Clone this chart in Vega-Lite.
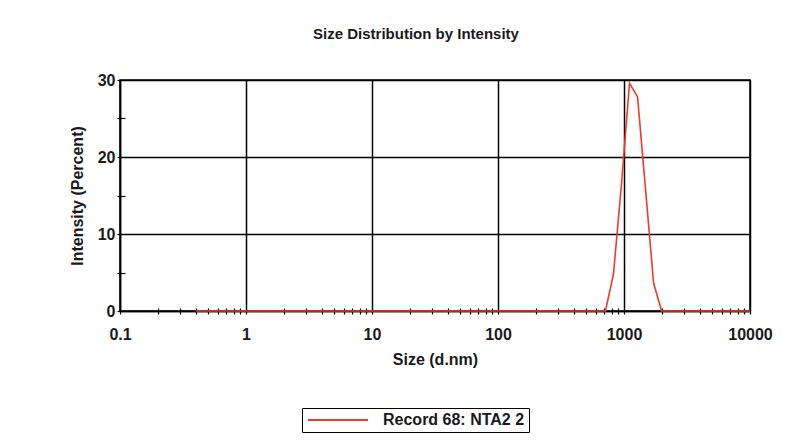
{
  "$schema": "https://vega.github.io/schema/vega-lite/v6.json",
  "width": 630,
  "height": 231,
  "autosize": {"type": "none"},
  "padding": {"left": 120, "top": 80, "right": 61, "bottom": 132},
  "background": "white",
  "title": {
    "text": "Size Distribution by Intensity",
    "font": "Liberation Sans",
    "fontSize": 15,
    "fontWeight": "bold",
    "color": "#1a1a1a",
    "anchor": "middle",
    "dx": -19,
    "offset": 30
  },
  "config": {
    "view": {"stroke": "black", "strokeWidth": 1.5},
    "axis": {
      "labelFont": "Liberation Sans",
      "labelFontWeight": "bold",
      "labelFontSize": 16,
      "labelColor": "#1a1a1a",
      "titleFont": "Liberation Sans",
      "titleFontWeight": "bold",
      "titleFontSize": 16,
      "titleColor": "#1a1a1a",
      "domainColor": "black",
      "domainWidth": 1.5,
      "tickColor": "black",
      "tickWidth": 1.2,
      "gridColor": "black",
      "gridWidth": 1.5,
      "gridOpacity": 1
    }
  },
  "data": {
    "values": [
      {"size": 0.4, "intensity": 0, "series": "Record 68: NTA2 2"},
      {"size": 0.4632, "intensity": 0, "series": "Record 68: NTA2 2"},
      {"size": 0.5365, "intensity": 0, "series": "Record 68: NTA2 2"},
      {"size": 0.6213, "intensity": 0, "series": "Record 68: NTA2 2"},
      {"size": 0.7195, "intensity": 0, "series": "Record 68: NTA2 2"},
      {"size": 0.8332, "intensity": 0, "series": "Record 68: NTA2 2"},
      {"size": 0.9649, "intensity": 0, "series": "Record 68: NTA2 2"},
      {"size": 1.117, "intensity": 0, "series": "Record 68: NTA2 2"},
      {"size": 1.294, "intensity": 0, "series": "Record 68: NTA2 2"},
      {"size": 1.499, "intensity": 0, "series": "Record 68: NTA2 2"},
      {"size": 1.736, "intensity": 0, "series": "Record 68: NTA2 2"},
      {"size": 2.01, "intensity": 0, "series": "Record 68: NTA2 2"},
      {"size": 2.328, "intensity": 0, "series": "Record 68: NTA2 2"},
      {"size": 2.696, "intensity": 0, "series": "Record 68: NTA2 2"},
      {"size": 3.122, "intensity": 0, "series": "Record 68: NTA2 2"},
      {"size": 3.615, "intensity": 0, "series": "Record 68: NTA2 2"},
      {"size": 4.187, "intensity": 0, "series": "Record 68: NTA2 2"},
      {"size": 4.849, "intensity": 0, "series": "Record 68: NTA2 2"},
      {"size": 5.615, "intensity": 0, "series": "Record 68: NTA2 2"},
      {"size": 6.503, "intensity": 0, "series": "Record 68: NTA2 2"},
      {"size": 7.531, "intensity": 0, "series": "Record 68: NTA2 2"},
      {"size": 8.721, "intensity": 0, "series": "Record 68: NTA2 2"},
      {"size": 10.1, "intensity": 0, "series": "Record 68: NTA2 2"},
      {"size": 11.7, "intensity": 0, "series": "Record 68: NTA2 2"},
      {"size": 13.54, "intensity": 0, "series": "Record 68: NTA2 2"},
      {"size": 15.69, "intensity": 0, "series": "Record 68: NTA2 2"},
      {"size": 18.17, "intensity": 0, "series": "Record 68: NTA2 2"},
      {"size": 21.04, "intensity": 0, "series": "Record 68: NTA2 2"},
      {"size": 24.36, "intensity": 0, "series": "Record 68: NTA2 2"},
      {"size": 28.21, "intensity": 0, "series": "Record 68: NTA2 2"},
      {"size": 32.67, "intensity": 0, "series": "Record 68: NTA2 2"},
      {"size": 37.84, "intensity": 0, "series": "Record 68: NTA2 2"},
      {"size": 43.82, "intensity": 0, "series": "Record 68: NTA2 2"},
      {"size": 50.75, "intensity": 0, "series": "Record 68: NTA2 2"},
      {"size": 58.77, "intensity": 0, "series": "Record 68: NTA2 2"},
      {"size": 68.06, "intensity": 0, "series": "Record 68: NTA2 2"},
      {"size": 78.82, "intensity": 0, "series": "Record 68: NTA2 2"},
      {"size": 91.28, "intensity": 0, "series": "Record 68: NTA2 2"},
      {"size": 105.7, "intensity": 0, "series": "Record 68: NTA2 2"},
      {"size": 122.4, "intensity": 0, "series": "Record 68: NTA2 2"},
      {"size": 141.8, "intensity": 0, "series": "Record 68: NTA2 2"},
      {"size": 164.2, "intensity": 0, "series": "Record 68: NTA2 2"},
      {"size": 190.1, "intensity": 0, "series": "Record 68: NTA2 2"},
      {"size": 220.2, "intensity": 0, "series": "Record 68: NTA2 2"},
      {"size": 255.0, "intensity": 0, "series": "Record 68: NTA2 2"},
      {"size": 295.3, "intensity": 0, "series": "Record 68: NTA2 2"},
      {"size": 342.0, "intensity": 0, "series": "Record 68: NTA2 2"},
      {"size": 396.1, "intensity": 0, "series": "Record 68: NTA2 2"},
      {"size": 458.7, "intensity": 0, "series": "Record 68: NTA2 2"},
      {"size": 531.2, "intensity": 0, "series": "Record 68: NTA2 2"},
      {"size": 615.1, "intensity": 0, "series": "Record 68: NTA2 2"},
      {"size": 712.4, "intensity": 0, "series": "Record 68: NTA2 2"},
      {"size": 825.0, "intensity": 4.8, "series": "Record 68: NTA2 2"},
      {"size": 955.4, "intensity": 16.5, "series": "Record 68: NTA2 2"},
      {"size": 1106, "intensity": 29.6, "series": "Record 68: NTA2 2"},
      {"size": 1281, "intensity": 27.8, "series": "Record 68: NTA2 2"},
      {"size": 1484, "intensity": 15.7, "series": "Record 68: NTA2 2"},
      {"size": 1718, "intensity": 3.6, "series": "Record 68: NTA2 2"},
      {"size": 1990, "intensity": 0, "series": "Record 68: NTA2 2"},
      {"size": 2305, "intensity": 0, "series": "Record 68: NTA2 2"},
      {"size": 2669, "intensity": 0, "series": "Record 68: NTA2 2"},
      {"size": 3091, "intensity": 0, "series": "Record 68: NTA2 2"},
      {"size": 3580, "intensity": 0, "series": "Record 68: NTA2 2"},
      {"size": 4145, "intensity": 0, "series": "Record 68: NTA2 2"},
      {"size": 4801, "intensity": 0, "series": "Record 68: NTA2 2"},
      {"size": 5560, "intensity": 0, "series": "Record 68: NTA2 2"},
      {"size": 6439, "intensity": 0, "series": "Record 68: NTA2 2"},
      {"size": 7456, "intensity": 0, "series": "Record 68: NTA2 2"},
      {"size": 8635, "intensity": 0, "series": "Record 68: NTA2 2"},
      {"size": 10000, "intensity": 0, "series": "Record 68: NTA2 2"}
    ]
  },
  "layer": [
    {
      "mark": {"type": "line", "strokeWidth": 1.6, "clip": false},
      "encoding": {
        "x": {
          "field": "size",
          "type": "quantitative",
          "scale": {"type": "log", "domain": [0.1, 10000], "nice": false},
          "axis": {
            "orient": "bottom",
            "values": [0.1, 1, 10, 100, 1000, 10000],
            "format": "~g",
            "grid": true,
            "tickSize": 3,
            "labelPadding": 12,
            "labelFlush": false,
            "labelOverlap": false,
            "title": "Size (d.nm)",
            "titlePadding": 9
          }
        },
        "y": {
          "field": "intensity",
          "type": "quantitative",
          "scale": {"domain": [0, 30], "nice": false},
          "axis": {
            "orient": "left",
            "values": [0, 10, 20, 30],
            "grid": true,
            "tickSize": 3,
            "labelPadding": 2,
            "title": "Intensity (Percent)",
            "titlePadding": 12
          }
        },
        "color": {
          "field": "series",
          "type": "nominal",
          "scale": {"range": ["#f03a2a"]},
          "legend": {
            "orient": "none",
            "legendX": 182,
            "legendY": 328,
            "title": null,
            "symbolType": "M-1,0H9",
            "symbolSize": 144,
            "symbolStrokeWidth": 2,
            "labelFont": "Liberation Sans",
            "labelFontWeight": "bold",
            "labelFontSize": 16,
            "labelColor": "#1a1a1a",
            "labelOffset": 61,
            "labelLimit": 400,
            "strokeColor": "black",
            "padding": 4
          }
        }
      }
    },
    {
      "mark": {"type": "line", "strokeOpacity": 0},
      "encoding": {
        "x": {
          "field": "size",
          "type": "quantitative",
          "axis": {
            "orient": "bottom",
            "values": [0.2, 0.3, 0.4, 0.5, 0.6, 0.7, 0.8, 0.9, 2, 3, 4, 5, 6, 7, 8, 9, 20, 30, 40, 50, 60, 70, 80, 90, 200, 300, 400, 500, 600, 700, 800, 900, 2000, 3000, 4000, 5000, 6000, 7000, 8000, 9000],
            "domain": false,
            "labels": false,
            "grid": false,
            "tickSize": 6,
            "offset": -3,
            "title": null
          }
        },
        "y": {
          "field": "intensity",
          "type": "quantitative",
          "axis": {
            "orient": "left",
            "values": [5, 15, 25],
            "domain": false,
            "labels": false,
            "grid": false,
            "tickSize": 8,
            "offset": -5,
            "title": null
          }
        }
      }
    }
  ],
  "resolve": {"axis": {"x": "independent", "y": "independent"}}
}
